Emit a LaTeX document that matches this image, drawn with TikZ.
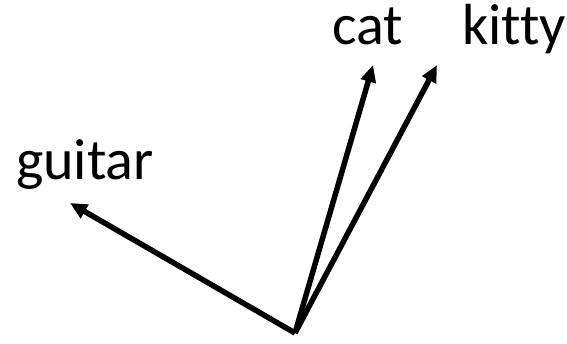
\documentclass[tikz,border=0pt]{standalone}
\usepackage{fontspec}
\setmainfont{Carlito}[Ligatures={TeX,NoCommon}]
\usetikzlibrary{arrows.meta}
\tikzset{
  word/.style={anchor=base, inner sep=0pt, font=\fontsize{58}{62}\selectfont},
  vec/.style={line width=5.5pt, -{Triangle[length=17pt,width=15pt]}}
}
\begin{document}
\begin{tikzpicture}[x=1pt,y=-1pt]
\useasboundingbox (0,0) rectangle (567,344);
\node[word] (cat) at (367.5,45) {cat};
\node[word] (kitty) at (514,45) {kitty};
\node[word] (guitar) at (85,180) {guitar};
\coordinate (o) at (295,333);
\coordinate (tg) at (70,203);
\coordinate (tc) at (373,65);
\coordinate (tk) at (437,65);
\draw[vec] (o) -- (tg);
\draw[vec] (o) -- (tc);
\draw[vec] (o) -- (tk);
\end{tikzpicture}
\end{document}
